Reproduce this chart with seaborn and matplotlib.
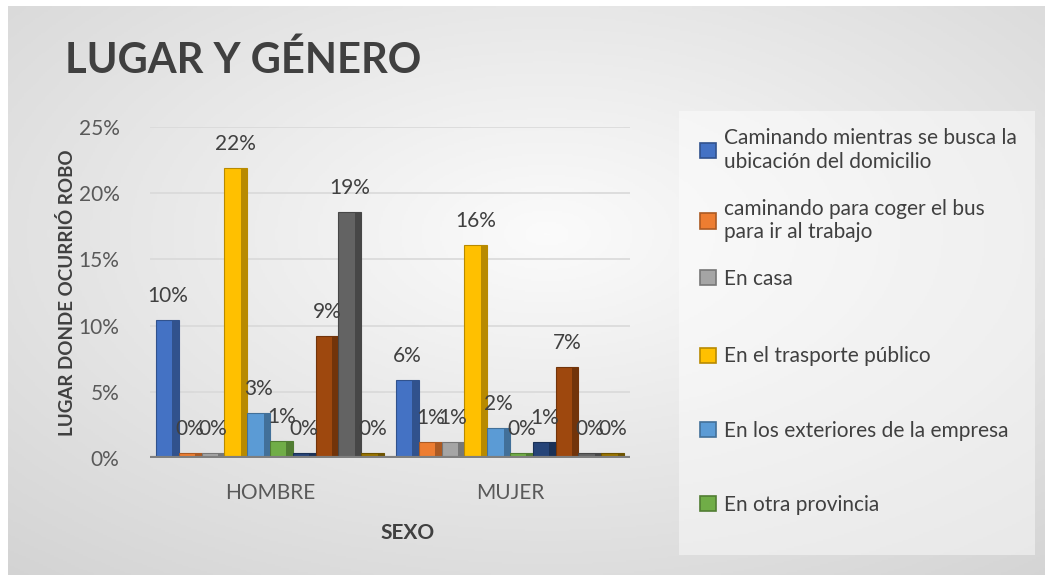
import numpy as np
import pandas as pd
import matplotlib
matplotlib.use("Agg")
import matplotlib.pyplot as plt
import matplotlib.colors as mcolors
from matplotlib.patches import Rectangle
import seaborn as sns

# datos
sexo = ["HOMBRE", "MUJER"]
lugares = [
    "Caminando mientras se busca la\nubicación del domicilio",
    "caminando para coger el bus\npara ir al trabajo",
    "En casa",
    "En el trasporte público",
    "En los exteriores de la empresa",
    "En otra provincia",
    "Otro lugar 1",
    "Otro lugar 2",
    "Otro lugar 3",
    "Otro lugar 4",
]
hombre = [10.4, 0.0, 0.0, 21.9, 3.4, 1.3, 0.0, 9.2, 18.6, 0.0]
mujer = [5.9, 1.2, 1.2, 16.1, 2.3, 0.0, 1.2, 6.9, 0.0, 0.0]
colores = ["#4472C4", "#ED7D31", "#A5A5A5", "#FFC000", "#5B9BD5",
           "#70AD47", "#264478", "#9E480E", "#636363", "#997300"]

df = pd.DataFrame({
    "sexo": np.repeat(sexo, len(lugares)),
    "lugar": lugares * 2,
    "valor": hombre + mujer,
})

sns.set_style("white")
plt.rcParams["font.family"] = ["Lato", "DejaVu Sans"]

fig = plt.figure(figsize=(10.45, 5.75), dpi=100)
fig.patch.set_facecolor("white")

# fondo con degradado
bg = fig.add_axes([8 / 1045, 0, 1 - 8 / 1045, 1 - 6 / 575], zorder=-10)
yy, xx = np.mgrid[0:1:300j, 0:1:500j]
r = np.sqrt(((xx - 0.52) / 0.9) ** 2 + ((yy - 0.4) / 0.9) ** 2)
grad = np.clip(1 - r * 0.55, 0, 1)
bg.imshow(grad, cmap=mcolors.LinearSegmentedColormap.from_list("g", ["#c6c6c6", "#fbfbfb"]),
          aspect="auto", extent=[0, 1, 0, 1], vmin=0.35, vmax=1.0)
bg.axis("off")

# caja de la leyenda
fig.patches.append(Rectangle((679 / 1045, 1 - 555 / 575), 356 / 1045, 444 / 575,
                             transform=fig.transFigure, facecolor="white",
                             alpha=0.45, edgecolor="none", zorder=-5))

ax = fig.add_axes([150 / 1045, 1 - 458 / 575, 480 / 1045, 331 / 575])
ax.set_facecolor("none")

sns.barplot(data=df, x="sexo", y="valor", hue="lugar", hue_order=lugares,
            palette=colores, width=0.95, ax=ax, legend=False, saturation=1,
            zorder=3)

# efecto de profundidad
for cont, col in zip(ax.containers, colores):
    dark = tuple(c * 0.72 for c in mcolors.to_rgb(col))
    for p in cont.patches:
        p.set_edgecolor(dark)
        p.set_linewidth(0.8)
        w = p.get_width()
        h = max(p.get_height(), 0.35)
        if p.get_height() < 0.35:
            p.set_height(0.35)
        ax.add_patch(Rectangle((p.get_x() + w * 0.72, 0), w * 0.28, h,
                               facecolor=dark, edgecolor="none", zorder=4))
    ax.bar_label(cont, labels=[f"{v:.0f}%" for v in cont.datavalues],
                 padding=10, fontsize=15, color="#404040", zorder=6)

ax.set_ylim(0, 25)
ax.set_xlim(-0.5, 1.5)
ax.set_yticks([0, 5, 10, 15, 20, 25])
ax.set_yticklabels([f"{t}%" for t in [0, 5, 10, 15, 20, 25]])
ax.yaxis.grid(True, color="#d9d9d9", linewidth=1.2, zorder=0)
ax.axhline(0, color="#7f7f7f", linewidth=3, zorder=5)
sns.despine(ax=ax, left=True, bottom=True)
ax.tick_params(axis="both", length=0, labelsize=15, labelcolor="#595959")
ax.tick_params(axis="y", pad=22)
ax.tick_params(axis="x", pad=18)

ax.set_xlabel("SEXO", fontsize=15, fontweight="bold", color="#404040")
ax.xaxis.set_label_coords(0.5375, -0.196)
ax.set_ylabel("LUGAR DONDE OCURRIÓ ROBO", fontsize=13.5, fontweight="bold", color="#404040")
ax.yaxis.set_label_coords(-0.155, 0.5)

fig.text(65 / 1045, 1 - 60 / 575, "LUGAR Y GÉNERO", fontsize=30, fontweight="bold",
         color="#404040", va="center", ha="left")

# leyenda (solo las seis primeras entradas como en el original), en dos bloques
kw = dict(loc="upper left", frameon=False, fontsize=15, labelcolor="#404040",
          handlelength=0.75, handleheight=0.75, handletextpad=0.4, borderpad=0)
handles = [Rectangle((0, 0), 1, 1, facecolor=c,
                     edgecolor=tuple(v * 0.72 for v in mcolors.to_rgb(c)), linewidth=1.2)
           for c in colores[:6]]
fig.legend(handles[:3], lugares[:3], bbox_to_anchor=(690 / 1045, 1 - 118 / 575),
           labelspacing=1.3, **kw)
fig.legend(handles[3:], lugares[3:6], bbox_to_anchor=(690 / 1045, 1 - 336 / 575),
           labelspacing=2.6, **kw)

fig.savefig("out.png", dpi=100)
